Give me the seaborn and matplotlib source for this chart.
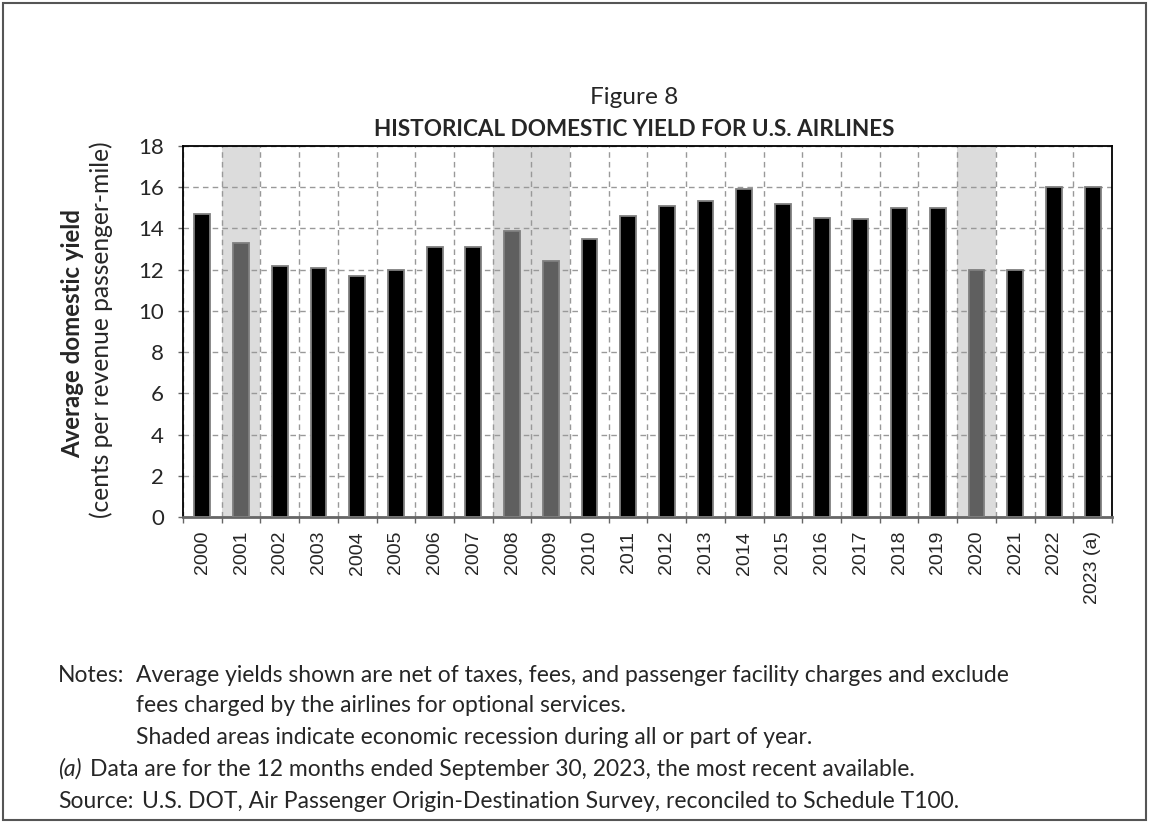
import matplotlib
matplotlib.use("Agg")
import matplotlib.pyplot as plt
import matplotlib.patches as mpatches
import pandas as pd
import seaborn as sns

# chart data
years = ["2000", "2001", "2002", "2003", "2004", "2005", "2006", "2007",
         "2008", "2009", "2010", "2011", "2012", "2013", "2014", "2015",
         "2016", "2017", "2018", "2019", "2020", "2021", "2022", "2023 (a)"]
yields = [14.7, 13.3, 12.2, 12.1, 11.7, 12.0, 13.1, 13.1,
          13.9, 12.4, 13.5, 14.6, 15.1, 15.35, 15.9, 15.2,
          14.5, 14.45, 15.0, 15.0, 12.0, 12.0, 16.0, 16.0]
recession_years = ["2001", "2008", "2009", "2020"]

df = pd.DataFrame({"year": years, "yield": yields})
df["recession"] = df["year"].isin(recession_years)

sns.set_theme(style="white")
plt.rcParams["font.family"] = ["Lato", "DejaVu Sans"]

W, H = 1149, 823
fig = plt.figure(figsize=(W / 100, H / 100), dpi=100)
renderer = fig.canvas.get_renderer()


def px(x, y):
    # pixel position (from top-left) -> figure fraction
    return x / W, 1 - y / H


def fit_text(x, y, s, length, rotation=0, **kw):
    # place text and scale its font so that it spans `length` pixels
    t = fig.text(*px(x, y), s, fontsize=10, rotation=rotation, **kw)
    ext = t.get_window_extent(renderer)
    size = ext.height if rotation == 90 else ext.width
    t.set_fontsize(10 * length / size)
    return t


def after(t, gap):
    # x pixel just right of text t, plus a gap
    return t.get_window_extent(renderer).x1 + gap


ax = fig.add_axes([183 / W, 1 - 517 / H, (1112 - 183) / W, (517 - 146) / H])

# shaded recession bands
for i, y in enumerate(years):
    if y in recession_years:
        ax.axvspan(i - 0.5, i + 0.5, color="#dcdcdc", zorder=0, lw=0)

palette = {False: "#000000", True: "#5f5f5f"}
sns.barplot(data=df, x="year", y="yield", hue="recession", palette=palette,
            dodge=False, width=0.41, edgecolor="#808080", linewidth=1.3,
            legend=False, ax=ax, zorder=3)

ax.set_ylim(0, 18)
ax.set_xlim(-0.5, len(years) - 0.5)
ax.set_yticks(range(0, 19, 2))
ax.set_xticks([i - 0.5 for i in range(len(years) + 1)], minor=True)
ax.grid(False)
ax.yaxis.grid(True, color="#999999", linestyle=(0, (4, 3)), linewidth=1)
ax.xaxis.grid(True, which="minor", color="#999999", linestyle=(0, (4, 3)), linewidth=1)
ax.set_axisbelow(True)

ax.tick_params(axis="x", which="major", length=0, pad=10, rotation=90)
ax.tick_params(axis="x", which="minor", bottom=True, length=4, width=1, color="#666666")
ax.tick_params(axis="y", left=True, length=3.6, width=1, color="#666666", pad=10,
               labelsize=16)
for lab in ax.get_xticklabels():
    lab.set_fontfamily(["Liberation Sans", "DejaVu Sans"])
    lab.set_fontsize(14)
for s in ax.spines.values():
    s.set_color("black")
    s.set_linewidth(1.3)
ax.spines["bottom"].set_color("#666666")
ax.spines["bottom"].set_linewidth(2)
ax.set_xlabel("")
ax.set_ylabel("")

# y label (two lines)
fit_text(73, 333, "Average domestic yield", 250, rotation=90, ha="center",
         va="center", fontweight="bold")
fit_text(101, 330, "(cents per revenue passenger-mile)", 378, rotation=90,
         ha="center", va="center")

# titles
fit_text(634, 97, "Figure 8", 88, ha="center", va="center")
fit_text(634, 130, "HISTORICAL DOMESTIC YIELD FOR U.S. AIRLINES", 522,
         ha="center", va="center", fontweight="bold")

# notes
fs = 16.5
notes = fig.text(*px(58, 676), "Notes:", fontsize=fs, va="center")
body_x = after(notes, 12)
fig.text(*px(body_x, 676), "Average yields shown are net of taxes, fees, and passenger "
         "facility charges and exclude", fontsize=fs, va="center")
fig.text(*px(body_x, 706), "fees charged by the airlines for optional services.",
         fontsize=fs, va="center")
fig.text(*px(body_x, 737), "Shaded areas indicate economic recession during all or part of year.",
         fontsize=fs, va="center")
a = fig.text(*px(58, 769), "(a)", fontsize=fs, va="center", style="italic")
fig.text(*px(after(a, 8), 769), "Data are for the 12 months ended September 30, 2023, "
         "the most recent available.", fontsize=fs, va="center")
src = fig.text(*px(58, 801), "Source:", fontsize=fs, va="center")
fig.text(*px(after(src, 9), 801), "U.S. DOT, Air Passenger Origin-Destination Survey, "
         "reconciled to Schedule T100.", fontsize=fs, va="center")

# outer frame
fig.patches.append(mpatches.Rectangle((3 / W, 3 / H), 1 - 6 / W, 1 - 6 / H,
                                      transform=fig.transFigure, fill=False,
                                      edgecolor="#555555", linewidth=1.5))

fig.savefig("out.png", dpi=100)
